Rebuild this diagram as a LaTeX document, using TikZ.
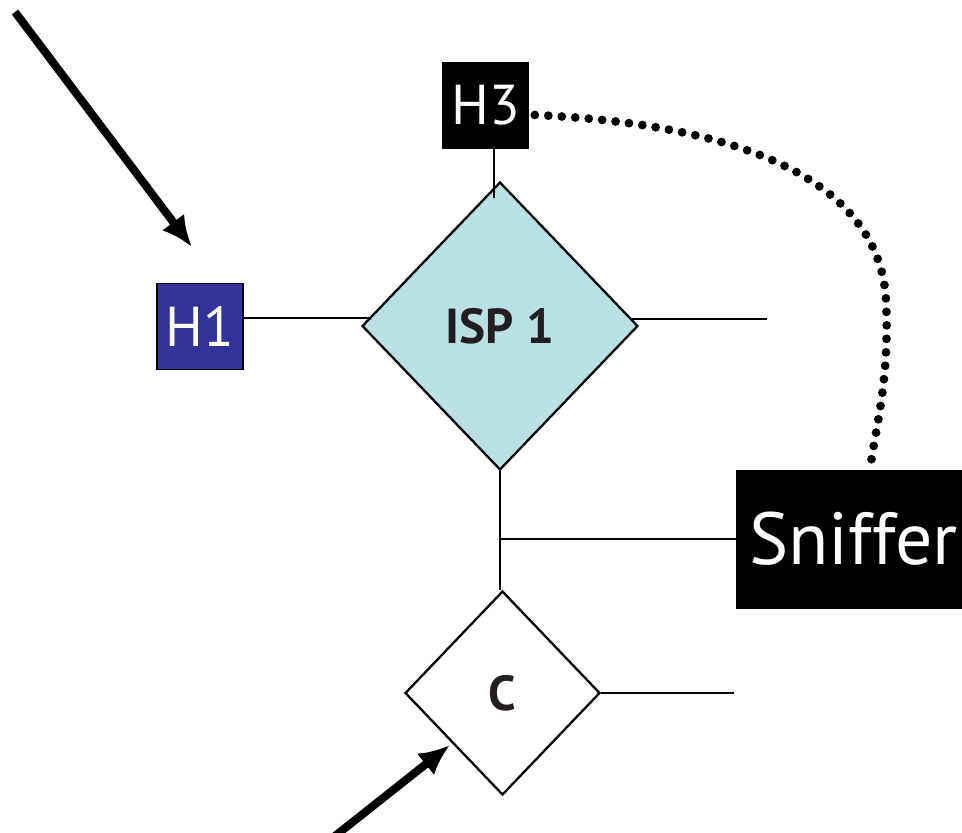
\documentclass[tikz,border=0pt]{standalone}
\usepackage{fontspec}
\setmainfont{PT Sans}
\usetikzlibrary{shapes.geometric,arrows.meta}

\definecolor{hostblue}{HTML}{333399}
\definecolor{ispcyan}{HTML}{BBE0E3}
\definecolor{labelgray}{HTML}{231F20}

\tikzset{
	host/.style = {draw, fill = black, text = white, minimum width = 1.72cm, minimum height = 1.72cm, inner sep = 0pt, font = \fontsize{32}{32}\selectfont},
	router/.style = {diamond, draw, line width = 1.3pt, inner sep = 0pt, text = labelgray, font = \fontsize{28}{28}\selectfont\bfseries},
	link/.style = {line width = 1.1pt},
	push/.style = {line width = 4.6pt, -{Latex[length = 0.62cm, width = 0.55cm]}},
	tap/.style = {line width = 5pt, line cap = round, dash pattern = on 0pt off 0.27cm}
}

\begin{document}

\begin{tikzpicture}[x = 0.02cm, y = -0.02cm]

	% Page frame

	\useasboundingbox (0, 0) rectangle (962, 832);

	% Routers

	\node [router, fill = ispcyan, minimum width = 5.52cm, minimum height = 5.76cm] (ISP) at (500, 326) {ISP 1};
	\node [router, fill = white, minimum width = 3.9cm, minimum height = 4.08cm] (C) at (502.5, 693) {C};

	% Hosts and the sniffer

	\node [host, fill = hostblue, line width = 1.1pt] (H1) at (200, 326.5) {H1};
	\node [host] (H3) at (485.5, 105) {H3};
	\node [host, anchor = west, minimum height = 2.76cm, inner xsep = 0.26cm, font = \fontsize{42}{42}\selectfont] (Sniffer) at (736, 539) {Sniffer};

	% Links

	\draw [link] ([yshift = 0.17cm] H1.east) -- ([xshift = 0.16cm, yshift = 0.16cm] ISP.west);
	\draw [link] ([xshift = -0.14cm, yshift = 0.14cm] ISP.east) -- ++(135, 0);
	\draw [link] ([xshift = 0.17cm] H3.south) -- ++(0, 50);
	\draw [link] (ISP.south) -- (ISP.south |- C.north);
	\draw [link] (ISP.south |- Sniffer.west) -- (Sniffer.west);
	\draw [link] (C.east) -- ++(133, 0);

	% Sniffer tap on H3

	\draw [tap] ([xshift = 0.12cm, yshift = -0.2cm] H3.east) .. controls (760, 125) and (880, 190) .. (886, 300)
		.. controls (890, 380) and (875, 430) .. ([xshift = 2.68cm] Sniffer.north west);

	% Incoming traffic

	\draw [push] (15, 12) -- ([xshift = -0.16cm, yshift = 0.71cm] H1.north);
	\draw [push] (335, 836) -- ([xshift = -1.05cm, yshift = -1.04cm] C.center);

\end{tikzpicture}

\end{document}
